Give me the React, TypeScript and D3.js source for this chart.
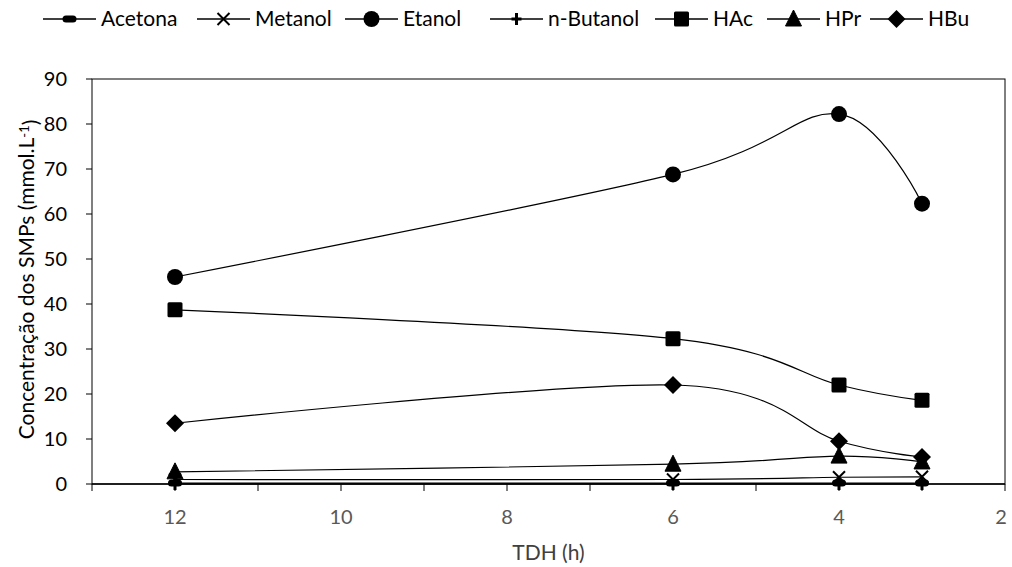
import React from 'react';
import * as d3 from 'd3';

const tdh = [12, 6, 4, 3];
const acetona = [0.2, 0.2, 0.2, 0.2];
const metanol = [1.0, 1.0, 1.5, 1.6];
const etanol = [46.0, 68.8, 82.2, 62.3];
const nButanol = [0.0, 0.0, 0.0, 0.0];
const hac = [38.7, 32.3, 22.0, 18.6];
const hpr = [2.7, 4.4, 6.2, 4.9];
const hbu = [13.5, 22.0, 9.5, 6.0];

const seriesNames = ['Acetona', 'Metanol', 'Etanol', 'n-Butanol', 'HAc', 'HPr', 'HBu'];
const seriesMarkers = ['dash', 'x', 'circle', 'plus', 'square', 'triangle', 'diamond'];
const seriesValues = [acetona, metanol, etanol, nButanol, hac, hpr, hbu];

const yTicks = [0, 10, 20, 30, 40, 50, 60, 70, 80, 90];
const xLabelTicks = [12, 10, 8, 6, 4, 2];
const xMinorTicks = [13, 12, 11, 10, 9, 8, 7, 6, 5, 4, 3, 2];
const yTitle = 'Concentração dos SMPs (mmol.L';
const xTitle = 'TDH (h)';

const W = 1012, H = 567;
const left = 92, right = 1005, top = 79, bottom = 484;
const FONT = 'Lato, "Open Sans", sans-serif';

function Marker({ kind, x, y }: { kind: string; x: number; y: number }) {
  switch (kind) {
    case 'circle':
      return <circle cx={x} cy={y} r={8} fill="#000" />;
    case 'square':
      return <rect x={x - 7.5} y={y - 7.5} width={15} height={15} rx={1.5} fill="#000" />;
    case 'diamond':
      return <path d={`M${x},${y - 9}L${x + 9},${y}L${x},${y + 9}L${x - 9},${y}Z`} fill="#000" />;
    case 'triangle':
      return <path d={`M${x},${y - 9}L${x + 8},${y + 7}L${x - 8},${y + 7}Z`} fill="#000" strokeLinejoin="round" stroke="#000" strokeWidth={1} />;
    case 'x':
      return <path d={`M${x - 6},${y - 6}L${x + 6},${y + 6}M${x + 6},${y - 6}L${x - 6},${y + 6}`} stroke="#000" strokeWidth={2} />;
    case 'plus':
      return <path d={`M${x - 5},${y}L${x + 5},${y}M${x},${y - 6}L${x},${y + 6}`} stroke="#000" strokeWidth={3} />;
    case 'dash':
      return <rect x={x - 7} y={y - 3.5} width={14} height={7} rx={3.5} fill="#000" />;
    default:
      return null;
  }
}

export default function App() {
  const x = d3.scaleLinear().domain([13, 2]).range([left, right]);
  const y = d3.scaleLinear().domain([0, 90]).range([bottom, top]);
  const line = d3
    .line<number>()
    .x((_, i) => x(tdh[i]))
    .y((d) => y(d))
    .curve(d3.curveCardinal.tension(0));

  const legendX = [43, 197, 345, 490, 655, 767, 870];
  const legendY = 19;

  return (
    <svg width={W} height={H} style={{ position: 'absolute', left: 0, top: 0, background: '#fff' }} fontFamily={FONT}>
      <rect x={0} y={0} width={W} height={H} fill="#fff" />
      {/* legend */}
      {seriesNames.map((n, i) => (
        <g key={n}>
          <line x1={legendX[i]} x2={legendX[i] + 53} y1={legendY} y2={legendY} stroke="#000" strokeWidth={1.3} />
          <Marker kind={seriesMarkers[i]} x={legendX[i] + 26.5} y={legendY} />
          <text x={legendX[i] + 58} y={legendY} dy="0.35em" fontSize={21} fill="#000">{n}</text>
        </g>
      ))}
      {/* frame */}
      <rect x={left} y={top} width={right - left} height={bottom - top} fill="none" stroke="#000" strokeWidth={1} />
      {/* y axis */}
      {yTicks.map((t) => (
        <g key={t}>
          <line x1={left - 6} x2={left} y1={y(t)} y2={y(t)} stroke="#000" />
          <text x={left - 25} y={y(t)} dy="0.35em" textAnchor="end" fontSize={20}>{t}</text>
        </g>
      ))}
      {/* x axis */}
      <line x1={left} x2={right} y1={bottom} y2={bottom} stroke="#000" strokeWidth={1.5} />
      {xMinorTicks.map((t) => (
        <line key={t} x1={x(t)} x2={x(t)} y1={bottom} y2={bottom + 7} stroke="#000" />
      ))}
      {xLabelTicks.map((t) => (
        <text key={t} x={Math.min(x(t), 1001)} y={517} dy="0.35em" textAnchor="middle" fontSize={20} fill="#595959">{t}</text>
      ))}
      <text x={(left + right) / 2} y={553} dy="0.35em" textAnchor="middle" fontSize={21} fill="#404040">{xTitle}</text>
      <text transform={`translate(27,${(top + bottom) / 2 - 2}) rotate(-90)`} textAnchor="middle" dy="0.35em" fontSize={21}>
        {yTitle}
        <tspan dy="-0.45em" fontSize={13}>-1</tspan>
        <tspan dy="0.45em">)</tspan>
      </text>
      {/* series */}
      {seriesValues.map((vals, si) => (
        <g key={si}>
          <path d={line(vals) || ''} fill="none" stroke="#000" strokeWidth={1.2} />
          {vals.map((v, i) => (
            <Marker key={i} kind={seriesMarkers[si]} x={x(tdh[i])} y={y(v)} />
          ))}
        </g>
      ))}
    </svg>
  );
}
